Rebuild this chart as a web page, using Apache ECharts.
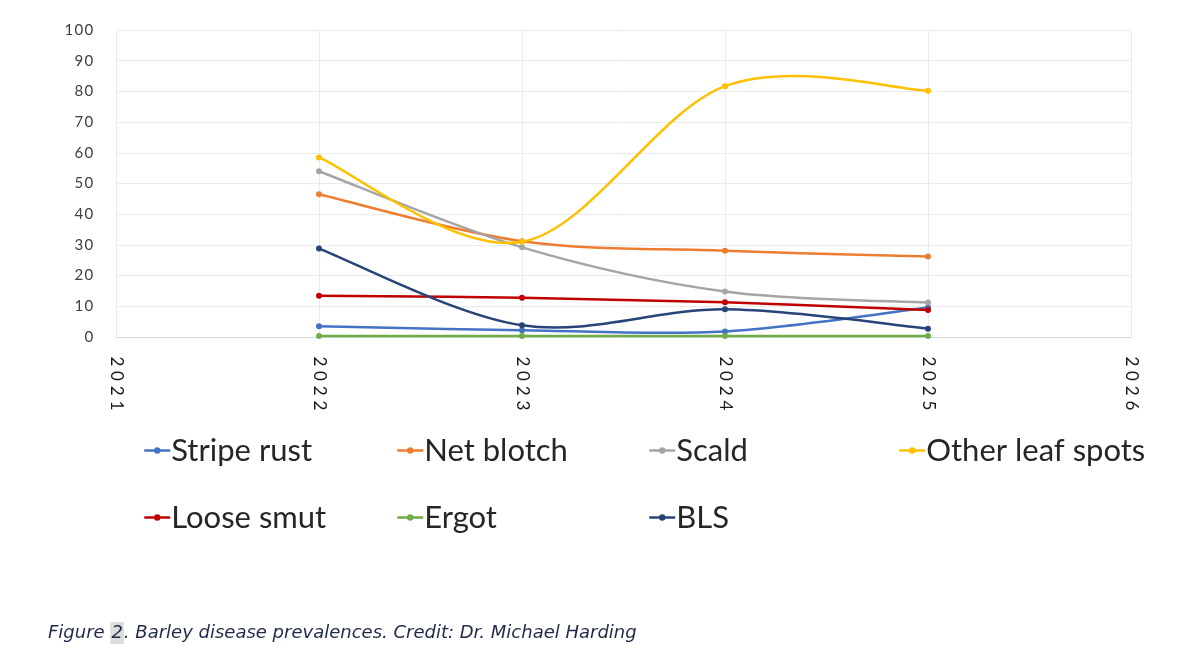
<!DOCTYPE html>
<html><head><meta charset="utf-8">
<script src="https://cdn.jsdelivr.net/npm/echarts@6/dist/echarts.min.js"></script>
<style>html,body{margin:0;padding:0;background:#fff}#c{width:1200px;height:660px}</style>
</head><body><div id="c"></div>
<script>
const years = [2022, 2023, 2024, 2025];
const stripeRust = [3.5, 2.2, 1.8, 9.6];
const netBlotch = [46.5, 31.2, 28.1, 26.2];
const scald = [54, 29.2, 14.8, 11.2];
const otherLeafSpots = [58.5, 31.0, 81.7, 80.2];
const looseSmut = [13.4, 12.8, 11.3, 8.8];
const ergot = [0.3, 0.3, 0.3, 0.3];
const bls = [28.8, 3.8, 9.0, 2.7];
const seriesNames = ['Stripe rust','Net blotch','Scald','Other leaf spots','Loose smut','Ergot','BLS'];
const seriesData = [stripeRust, netBlotch, scald, otherLeafSpots, looseSmut, ergot, bls];
const colors = ['#4472C4','#ED7D31','#A5A5A5','#FFC000','#C00000','#70AD47','#264478'];
const yTicks = [0,10,20,30,40,50,60,70,80,90,100];
const xTicks = [2021,2022,2023,2024,2025,2026];

const chart = echarts.init(document.getElementById('c'));
const legendPos = [[138,430],[391,430],[643,430],[893,430],[138,497],[391,497],[643,497]];
const font = 'Lato, "Open Sans", sans-serif';

// Excel-style smoothed line (Catmull-Rom -> Bezier) drawn in pixel space from api.coord
function smoothRender(points, color){
  return function(params, api){
    if (params.dataIndex !== 0) return;
    const p = points.map(d => api.coord(d));
    const n = p.length;
    const children = [];
    for (let i = 0; i < n - 1; i++) {
      const p0 = p[Math.max(i - 1, 0)], p1 = p[i], p2 = p[i + 1], p3 = p[Math.min(i + 2, n - 1)];
      children.push({
        type:'bezierCurve',
        shape:{x1:p1[0], y1:p1[1], x2:p2[0], y2:p2[1],
          cpx1:p1[0] + (p2[0]-p0[0])/6, cpy1:p1[1] + (p2[1]-p0[1])/6,
          cpx2:p2[0] - (p3[0]-p1[0])/6, cpy2:p2[1] - (p3[1]-p1[1])/6},
        style:{stroke:color, lineWidth:2.5, fill:null, lineCap:'round'}
      });
    }
    return {type:'group', children};
  };
}

const lineSeries = seriesNames.map((n,i)=>({
  name:n, type:'line', z:3,
  data: years.map((y,j)=>[y, seriesData[i][j]]),
  symbol:'circle', symbolSize:6,
  lineStyle:{width:2.5, color:colors[i], opacity:0},
  itemStyle:{color:colors[i]}
}));
const curveSeries = seriesNames.map((n,i)=>{
  const pts = years.map((y,j)=>[y, seriesData[i][j]]);
  return {
    name:'_curve_' + n, type:'custom', z:2, silent:true,
    data: pts,
    renderItem: smoothRender(pts, colors[i])
  };
});

function digits(v, key){ return String(v).split('').map(c=>'{'+key+'|'+c+'}').join(''); }

chart.setOption({
  animation:false,
  color: colors,
  grid:{left:116, top:30, width:1015, height:307, containLabel:false},
  title:{
    text:'{a|Figure }{h|2}{a|. Barley disease prevalences. Credit: Dr. Michael Harding}',
    left:43, top:617,
    textStyle:{fontWeight:'normal', rich:{
      a:{fontFamily:'"DejaVu Sans", sans-serif', fontStyle:'italic', fontWeight:'normal', fontSize:18, color:'#1F2A48'},
      h:{fontFamily:'"DejaVu Sans", sans-serif', fontStyle:'italic', fontWeight:'normal', fontSize:18, color:'#1F2A48', backgroundColor:'#DCDCDC', padding:[2,1,2,1]}
    }}
  },
  legend: seriesNames.map((n,i)=>({
    data:[{name:n}], left:legendPos[i][0], top:legendPos[i][1],
    itemWidth:26, itemHeight:8, itemGap:0,
    lineStyle:{color:colors[i], width:2.5, opacity:1},
    itemStyle:{color:colors[i], opacity:1},
    textStyle:{fontFamily:font, fontSize:31, color:'#262626', padding:[0,0,0,-4]}
  })),
  xAxis:{
    type:'value', min:xTicks[0], max:xTicks[xTicks.length-1], interval:1,
    axisLine:{show:true, lineStyle:{color:'#D9D9D9', width:1}},
    axisTick:{show:false},
    splitLine:{show:true, lineStyle:{color:'#EBEBEB', width:1}},
    axisLabel:{rotate:-90, margin:17, color:'#262626',
      formatter:v=>digits(v,'d'),
      rich:{d:{fontFamily:font, fontSize:17, color:'#1A1A1A', padding:[0,2.4,0,2.4]}}
    }
  },
  yAxis:{
    type:'value', min:yTicks[0], max:yTicks[yTicks.length-1], interval:10,
    axisLine:{show:true, lineStyle:{color:'#EBEBEB'}},
    axisTick:{show:false},
    splitLine:{show:true, lineStyle:{color:'#EBEBEB', width:1}},
    axisLabel:{margin:22, color:'#404040',
      formatter:v=>digits(v,'d'),
      rich:{d:{fontFamily:font, fontSize:15, color:'#404040', padding:[0,0.7,0,0.7]}}
    }
  },
  series: curveSeries.concat(lineSeries)
});
</script></body></html>
